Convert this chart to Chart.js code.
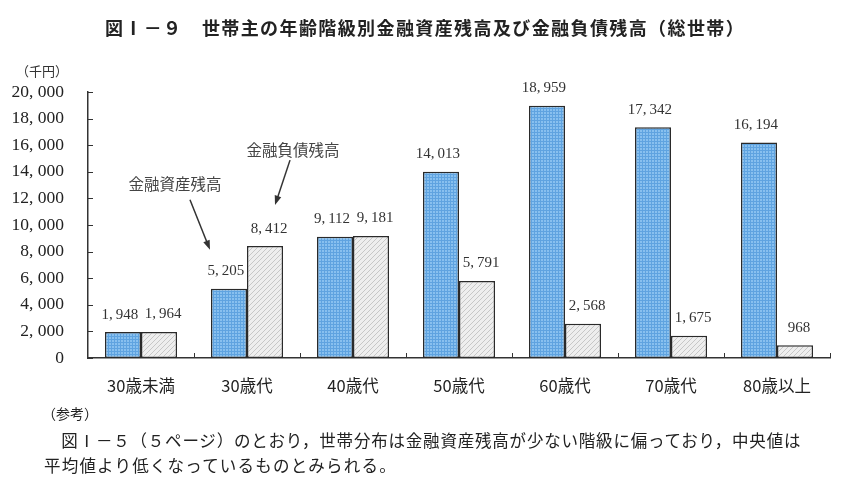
<!DOCTYPE html>
<html>
<head>
<meta charset="utf-8">
<script src="https://cdn.jsdelivr.net/npm/chart.js@4/dist/chart.umd.min.js"></script>
<style>
  body { margin: 0; background: #fff; }
  #wrap { position: relative; width: 850px; height: 485px; }
  .txt { position: absolute; font-family: "Noto Sans CJK JP", sans-serif; color: #222; white-space: nowrap; }
  #title { left: 0; width: 850px; top: 14px; text-align: center; font-size: 18px; font-weight: bold; letter-spacing: 1.4px; }
  #unit { left: 16px; top: 61px; font-size: 13px; color: #333; }
  #note1 { left: 42px; top: 403px; font-size: 14px; }
  #note2 { left: 44px; top: 428px; font-size: 16.5px; letter-spacing: 0.8px; }
  #note3 { left: 44px; top: 453px; font-size: 16.5px; letter-spacing: 1.2px; }
</style>
</head>
<body>
<div id="wrap">
  <canvas id="chart" width="850" height="485"></canvas>
  <div class="txt" id="title">図Ⅰ－９　世帯主の年齢階級別金融資産残高及び金融負債残高（総世帯）</div>
  <div class="txt" id="unit">（千円）</div>
  <div class="txt" id="note1">（参考）</div>
  <div class="txt" id="note2">　図Ⅰ－５（５ページ）のとおり，世帯分布は金融資産残高が少ない階級に偏っており，中央値は</div>
  <div class="txt" id="note3">平均値より低くなっているものとみられる。</div>
</div>
<script>
const ageGroups = ['30歳未満', '30歳代', '40歳代', '50歳代', '60歳代', '70歳代', '80歳以上'];
const assets = [1948, 5205, 9112, 14013, 18959, 17342, 16194];
const debts = [1964, 8412, 9181, 5791, 2568, 1675, 968];
const yTicks = [0, 2000, 4000, 6000, 8000, 10000, 12000, 14000, 16000, 18000, 20000];

function fmt(v, sep) {
  return v.toLocaleString('en-US').replace(/,/g, ',' + sep);
}

// fill patterns for the bars
function blueGrid() {
  const c = document.createElement('canvas');
  c.width = 3; c.height = 3;
  const g = c.getContext('2d');
  g.fillStyle = '#88c0ef';
  g.fillRect(0, 0, 3, 3);
  g.fillStyle = '#5fa3e0';
  g.fillRect(0, 0, 3, 1);
  g.fillRect(0, 0, 1, 3);
  return g.createPattern(c, 'repeat');
}

function greyHatch() {
  const c = document.createElement('canvas');
  c.width = 5; c.height = 5;
  const g = c.getContext('2d');
  g.fillStyle = '#eeeeee';
  g.fillRect(0, 0, 5, 5);
  g.strokeStyle = '#bcbcbc';
  g.lineWidth = 0.8;
  g.beginPath();
  g.moveTo(0, 5); g.lineTo(5, 0);
  g.moveTo(-1, 1); g.lineTo(1, -1);
  g.moveTo(4, 6); g.lineTo(6, 4);
  g.stroke();
  return g.createPattern(c, 'repeat');
}

// value labels, inner ticks and the two arrow callouts
const extras = {
  id: 'extras',
  afterDatasetsDraw(chart) {
    const ctx = chart.ctx;
    const area = chart.chartArea;
    const y = chart.scales.y;
    ctx.save();

    ctx.strokeStyle = '#333';
    ctx.lineWidth = 1;
    ctx.beginPath();
    yTicks.forEach(v => {
      const py = Math.round(y.getPixelForValue(v)) + 0.5;
      ctx.moveTo(area.left, py);
      ctx.lineTo(area.left + 5, py);
    });
    const step = (area.right - area.left) / ageGroups.length;
    for (let i = 1; i <= ageGroups.length; i++) {
      const px = Math.round(area.left + i * step) + 0.5;
      ctx.moveTo(px, area.bottom);
      ctx.lineTo(px, area.bottom - 5);
    }
    ctx.stroke();

    ctx.fillStyle = '#333';
    ctx.font = '15px "Liberation Serif", serif';
    ctx.textAlign = 'center';
    ctx.textBaseline = 'bottom';
    const shift = [-3, 4];
    chart.data.datasets.forEach((ds, di) => {
      chart.getDatasetMeta(di).data.forEach((bar, i) => {
        ctx.fillText(fmt(ds.data[i], '\u2009'), bar.x + shift[di], bar.y - 10);
      });
    });

    const a = chart.getDatasetMeta(0).data[1];
    const d = chart.getDatasetMeta(1).data[1];
    drawArrow(ctx, a.x - 39, a.y - 89, a.x - 19, a.y - 39);
    drawArrow(ctx, d.x + 25, d.y - 86, d.x + 10, d.y - 41);
    ctx.font = '15.5px "Noto Sans CJK JP", sans-serif';
    ctx.fillStyle = '#444';
    ctx.textBaseline = 'middle';
    ctx.fillText('金融資産残高', a.x - 54, a.y - 105);
    ctx.fillText('金融負債残高', d.x + 28, d.y - 96);
    ctx.restore();
  }
};

function drawArrow(ctx, x1, y1, x2, y2) {
  const ang = Math.atan2(y2 - y1, x2 - x1);
  ctx.strokeStyle = '#333';
  ctx.fillStyle = '#333';
  ctx.lineWidth = 1.5;
  ctx.beginPath();
  ctx.moveTo(x1, y1);
  ctx.lineTo(x2 - 6 * Math.cos(ang), y2 - 6 * Math.sin(ang));
  ctx.stroke();
  ctx.beginPath();
  ctx.moveTo(x2, y2);
  ctx.lineTo(x2 - 10 * Math.cos(ang - 0.35), y2 - 10 * Math.sin(ang - 0.35));
  ctx.lineTo(x2 - 10 * Math.cos(ang + 0.35), y2 - 10 * Math.sin(ang + 0.35));
  ctx.closePath();
  ctx.fill();
}

new Chart(document.getElementById('chart'), {
  type: 'bar',
  data: {
    labels: ageGroups,
    datasets: [
      {
        label: '金融資産残高',
        data: assets,
        backgroundColor: blueGrid(),
        borderColor: '#2a2a2a',
        borderWidth: 1.5,
        borderSkipped: false
      },
      {
        label: '金融負債残高',
        data: debts,
        backgroundColor: greyHatch(),
        borderColor: '#2a2a2a',
        borderWidth: 1.5,
        borderSkipped: false
      }
    ]
  },
  options: {
    responsive: false,
    animation: false,
    categoryPercentage: 0.68,
    barPercentage: 1.0,
    layout: { padding: { left: 8, right: 20, top: 92, bottom: 87 } },
    plugins: {
      legend: { display: false },
      title: { display: false },
      tooltip: { enabled: false }
    },
    scales: {
      x: {
        grid: { display: false },
        border: { color: '#333', width: 1.5 },
        ticks: {
          color: '#222',
          padding: 10,
          font: { family: '"Noto Sans CJK JP", sans-serif', size: 16.5 }
        },
        afterFit(s) { s.height = 40; }
      },
      y: {
        min: 0,
        max: 20000,
        grid: { display: false },
        border: { color: '#333', width: 1.5 },
        afterBuildTicks(s) { s.ticks = yTicks.map(v => ({ value: v })); },
        afterFit(s) { s.width = 80; },
        ticks: {
          color: '#222',
          padding: 16,
          font: { family: '"Liberation Serif", serif', size: 17.5 },
          callback: v => fmt(v, ' ')
        }
      }
    }
  },
  plugins: [extras]
});
</script>
</body>
</html>
